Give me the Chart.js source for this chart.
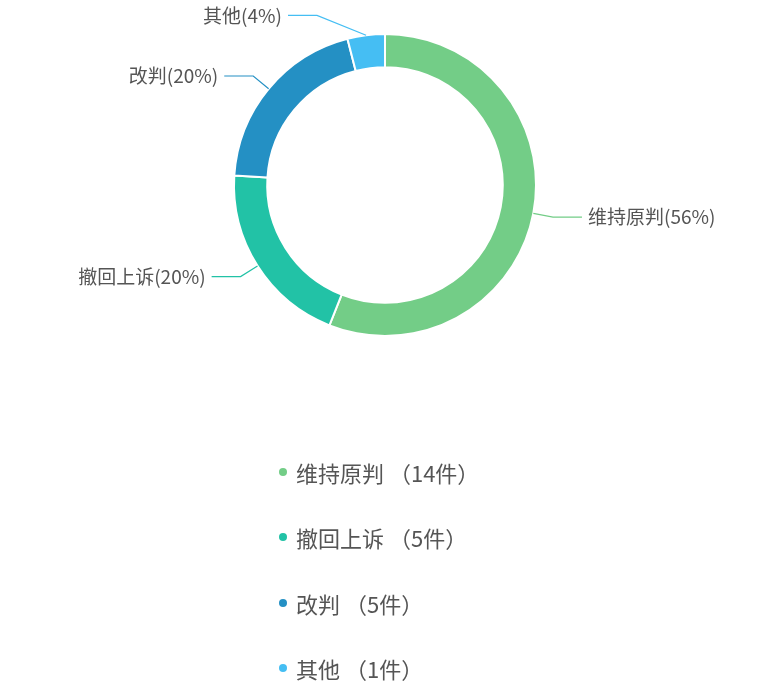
<!DOCTYPE html>
<html>
<head>
<meta charset="utf-8">
<script src="https://cdn.jsdelivr.net/npm/chart.js@4.4.0/dist/chart.umd.min.js"></script>
<style>
  body { margin: 0; background: #fff; }
  #wrap { position: relative; width: 778px; height: 693px; }
  #legend {
    position: absolute; left: 279px; top: 439px; margin: 0; padding: 0; list-style: none;
    font-family: "Noto Sans CJK SC", sans-serif; font-size: 22px; color: #555555;
  }
  #legend li { height: 65.5px; display: flex; align-items: center; }
  #legend .dot { width: 8px; height: 8px; border-radius: 50%; margin-right: 9px; }
</style>
</head>
<body>
<div id="wrap">
  <canvas id="judgeChart" width="778" height="693"></canvas>
  <ul id="legend"></ul>
</div>
<script>
var categories = ["维持原判", "撤回上诉", "改判", "其他"];
var counts = [14, 5, 5, 1];
var colors = ["#73cd87", "#22c2a6", "#2490c4", "#45bef3"];

var total = counts.reduce(function (a, b) { return a + b; }, 0);

// labels outside the ring with a bent leader line
var outsideLabels = {
  id: "outsideLabels",
  afterDatasetsDraw: function (chart) {
    var ctx = chart.ctx;
    var meta = chart.getDatasetMeta(0);
    ctx.save();
    ctx.font = '19px "Noto Sans CJK SC"';
    ctx.textBaseline = "middle";
    ctx.lineWidth = 1.2;
    meta.data.forEach(function (arc, i) {
      var p = arc.getProps(["x", "y", "startAngle", "endAngle", "outerRadius"], true);
      var mid = (p.startAngle + p.endAngle) / 2;
      var cos = Math.cos(mid), sin = Math.sin(mid);
      var side = cos >= 0 ? 1 : -1;
      var x1 = p.x + cos * p.outerRadius, y1 = p.y + sin * p.outerRadius;
      var r2 = p.outerRadius + 20;
      var x2 = p.x + side * Math.max(Math.abs(cos * r2), 68);
      var y2 = Math.max(p.y + sin * r2, 12);
      var x3 = x2 + side * 29;
      ctx.strokeStyle = colors[i];
      ctx.beginPath();
      ctx.moveTo(x1, y1);
      ctx.lineTo(x2, y2);
      ctx.lineTo(x3, y2);
      ctx.stroke();
      ctx.fillStyle = "#555555";
      ctx.textAlign = side > 0 ? "left" : "right";
      var pct = Math.round(counts[i] / total * 100);
      ctx.fillText(categories[i] + "(" + pct + "%)", x3 + side * 6, y2);
    });
    ctx.restore();
  }
};

var ctx = document.getElementById("judgeChart").getContext("2d");

var config = {
  type: "doughnut",
  data: {
    labels: categories,
    datasets: [{
      data: counts,
      backgroundColor: colors,
      borderColor: "#ffffff",
      borderWidth: 2
    }]
  },
  options: {
    responsive: false,
    animation: false,
    radius: 151,
    cutout: "78%",
    layout: { padding: { left: 0, right: 8, top: 20, bottom: 343 } },
    plugins: {
      legend: { display: false },
      tooltip: { enabled: false }
    }
  },
  plugins: [outsideLabels]
};

var judgeChart = new Chart(ctx, config);

// vertical legend under the chart
var legend = document.getElementById("legend");
categories.forEach(function (name, i) {
  var li = document.createElement("li");
  var dot = document.createElement("span");
  dot.className = "dot";
  dot.style.background = colors[i];
  li.appendChild(dot);
  li.appendChild(document.createTextNode(name + " （" + counts[i] + "件）"));
  legend.appendChild(li);
});
</script>
</body>
</html>
